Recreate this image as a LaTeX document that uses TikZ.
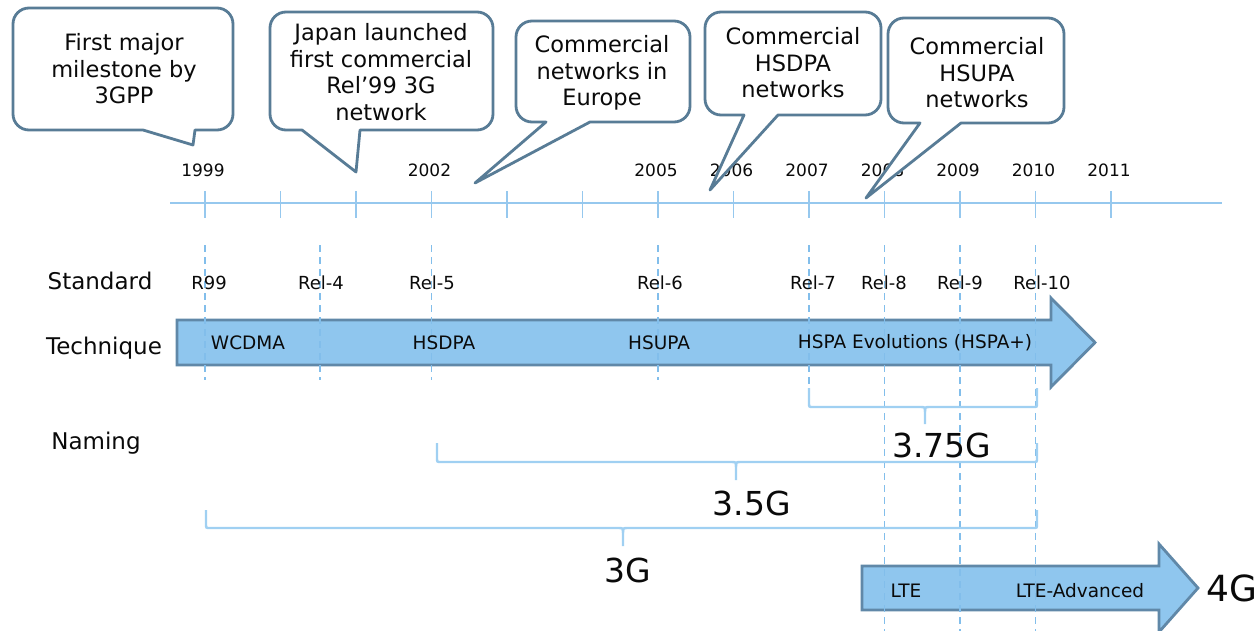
\documentclass[tikz,border=0pt]{standalone}
\usepackage{fontspec}
\setmainfont{DejaVu Sans}
\definecolor{callc}{RGB}{88,124,150}
\definecolor{arrfill}{RGB}{143,198,238}
\definecolor{arrdraw}{RGB}{96,136,168}
\definecolor{axisc}{RGB}{150,200,238}
\definecolor{dashc}{RGB}{130,190,235}
\definecolor{bracec}{RGB}{160,208,242}
\definecolor{txt}{RGB}{10,10,10}
\newcommand\mybrace[6]{%
  \draw[bracesty] (#1,#4) -- (#1,#5-4) .. controls (#1,#5) .. (#1+4,#5) -- (#3-5,#5) .. controls (#3,#5) .. (#3,#5+5) -- (#3,#6);
  \draw[bracesty] (#2,#4) -- (#2,#5-4) .. controls (#2,#5) .. (#2-4,#5) -- (#3+5,#5) .. controls (#3,#5) .. (#3,#5+5);
}
\begin{document}
\begin{tikzpicture}[x=1pt,y=-1pt,
  every node/.style={inner sep=0pt, text=txt},
  callout/.style={draw=callc, line width=2.8pt, fill=white, line join=round},
  calltext/.style={align=center, font=\fontsize{22.5}{26.5}\selectfont},
  axisline/.style={draw=axisc, line width=1.8pt},
  dashline/.style={draw=dashc, line width=1.4pt, dash pattern=on 7pt off 5pt},
  bigarrow/.style={draw=arrdraw, fill=arrfill, line width=2.8pt, line join=miter},
  bracesty/.style={draw=bracec, line width=2.4pt},
  yrs/.style={font=\fontsize{17}{20}\selectfont},
  rels/.style={font=\fontsize{18}{21}\selectfont},
  rowlab/.style={font=\fontsize{23}{27}\selectfont},
  techlab/.style={font=\fontsize{18.5}{22}\selectfont},
  gen/.style={font=\fontsize{33}{38}\selectfont}]
\useasboundingbox (0,0) rectangle (1257,631);
\fill[white] (0,0) rectangle (1257,631);

% time axis
\draw[axisline] (170,203) coordinate (axL) -- (1222,203) coordinate (axR);
\foreach \i in {0,...,12} \draw[axisline] (205+75.5*\i,191) -- (205+75.5*\i,218);
\foreach \yr/\i in {1999/0,2002/3,2005/6,2006/7,2007/8,2008/9,2009/10,2010/11,2011/12}
  \node[yrs] (y\yr) at (205+75.5*\i-2,170) {\yr};

% callouts
\draw[callout] (193,145) -- (143,130) [rounded corners=16pt] -- (13,130) -- (13,8) -- (233,8) -- (233,130) [sharp corners] -- (195,130) -- cycle;
\node[calltext] (c1) at (124,69) {First major\\milestone by\\3GPP};

\draw[callout] (356,172) -- (302,130) [rounded corners=16pt] -- (270,130) -- (270,12) -- (493,12) -- (493,130) [sharp corners] -- (360,130) -- cycle;
\node[calltext] (c2) at (381,72) {Japan launched\\first commercial\\Rel’99 3G\\network};

\draw[callout] (475,183) -- (546,122) [rounded corners=16pt] -- (516,122) -- (516,21) -- (690,21) -- (690,122) [sharp corners] -- (590,122) -- cycle;
\node[calltext] (c3) at (602,73) {Commercial\\networks in\\Europe};

\draw[callout] (710,190) -- (744,115) [rounded corners=16pt] -- (705,115) -- (705,12) -- (881,12) -- (881,115) [sharp corners] -- (778,115) -- cycle;
\node[calltext] (c4) at (793,63) {Commercial\\HSDPA\\networks};

\draw[callout] (866,198) -- (920,123) [rounded corners=16pt] -- (888,123) -- (888,18) -- (1064,18) -- (1064,123) [sharp corners] -- (961,123) -- cycle;
\node[calltext] (c5) at (977,73) {Commercial\\HSUPA\\networks};

% arrows
\draw[bigarrow] (177,320) -- (1051,320) -- (1051,298) -- (1095,342.5) -- (1051,387) -- (1051,365) -- (177,365) -- cycle;
\draw[bigarrow] (862,566) -- (1159,566) -- (1159,544) -- (1198,588) -- (1159,632) -- (1159,610) -- (862,610) -- cycle;

% dashed release lines
\foreach \x in {205,320,431.5,658} \draw[dashline] (\x,245) -- (\x,380);
\draw[dashline] (809,245) -- (809,392);
\foreach \x in {884.5,960,1035.5} \draw[dashline] (\x,245) -- (\x,631);

% braces
\mybrace{809}{1037}{925}{388}{407}{424}
\mybrace{437}{1037}{736}{443}{462}{480}
\mybrace{206}{1037}{623}{510}{528}{546}

% row labels
\node[rowlab] (lstd) at (100,281) {Standard};
\node[rowlab] (ltech) at (104,348) {Technique};
\node[rowlab] (lname) at (96,443) {Naming};

% releases
\node[rels] (r99) at (209,283) {R99};
\node[rels] (r4) at (321,283) {Rel-4};
\node[rels] (r5) at (432,283) {Rel-5};
\node[rels] (r6) at (660,283) {Rel-6};
\node[rels] (r7) at (813,283) {Rel-7};
\node[rels] (r8) at (884,283) {Rel-8};
\node[rels] (r9) at (960,283) {Rel-9};
\node[rels] (r10) at (1042,283) {Rel-10};

% techniques
\node[techlab] (tw) at (248,343) {WCDMA};
\node[techlab] (th) at (444,343) {HSDPA};
\node[techlab] (tu) at (659,343) {HSUPA};
\node[techlab] (te) at (915,343) {HSPA Evolutions (HSPA+)};
\node[techlab] (tl) at (906,591) {LTE};
\node[techlab] (ta) at (1080,591) {LTE-Advanced};

% generations
\node[gen] (g375) at (942,445) {3.75G};
\node[gen] (g35) at (752,503) {3.5G};
\node[gen] (g3) at (628,570) {3G};
\node[gen, font=\fontsize{36}{40}\selectfont] (g4) at (1232,588) {4G};
\end{tikzpicture}
\end{document}
